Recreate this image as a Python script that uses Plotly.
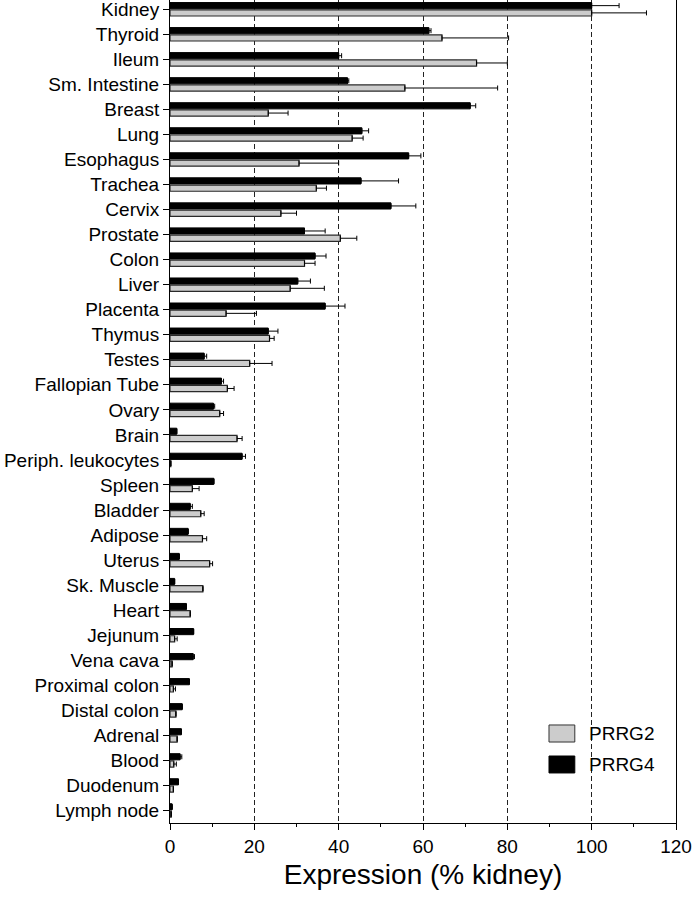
import plotly.graph_objects as go

categories = ["Kidney", "Thyroid", "Ileum", "Sm. Intestine", "Breast", "Lung", "Esophagus",
              "Trachea", "Cervix", "Prostate", "Colon", "Liver", "Placenta", "Thymus", "Testes",
              "Fallopian Tube", "Ovary", "Brain", "Periph. leukocytes", "Spleen", "Bladder",
              "Adipose", "Uterus", "Sk. Muscle", "Heart", "Jejunum", "Vena cava", "Proximal colon",
              "Distal colon", "Adrenal", "Blood", "Duodenum", "Lymph node"]

prrg2 = [100, 64.5, 72.7, 55.7, 23.3, 43.2, 30.6, 34.7, 26.3, 40.4, 31.9, 28.5, 13.3, 23.6, 18.9,
         13.6, 11.8, 15.9, 0.2, 5.3, 7.3, 7.7, 9.4, 7.8, 4.8, 1.1, 0.5, 0.8, 1.4, 1.7, 0.9, 0.8, 0.3]
prrg2_err = [13, 15.8, 7.3, 22, 4.7, 2.6, 9.4, 2.4, 3.7, 3.9, 2.5, 8.1, 7.2, 1.1, 5.3,
             1.6, 0.9, 1.2, None, 1.6, 0.8, 1.0, 0.7, None, None, 0.6, None, 0.5, None, None, 0.6, None, None]

prrg4 = [100, 61.4, 40.0, 42.1, 71.2, 45.5, 56.6, 45.3, 52.4, 31.9, 34.4, 30.3, 36.8, 23.3, 8.1,
         12.2, 10.3, 1.6, 17.1, 10.4, 4.8, 4.3, 2.2, 1.1, 3.9, 5.6, 5.5, 4.6, 2.9, 2.7, 2.4, 2.0, 0.5]
prrg4_err = [6.5, 0.5, 0.7, 0.3, 1.3, 1.6, 2.9, 8.9, 5.9, 4.9, 2.6, 3.0, 4.7, 2.3, 0.6,
             0.5, 0.3, None, 0.8, None, 0.5, None, None, None, None, None, 0.3, None, None, None, 0.4, None, None]

x_ticks = [0, 20, 40, 60, 80, 100, 120]

ypos = list(range(len(categories)))

def zeros_like(errs):
    return [0 if e is not None else None for e in errs]

fig = go.Figure()
fig.add_trace(go.Bar(
    name="PRRG4", y=ypos, x=prrg4, orientation="h",
    marker=dict(color="#000000", line=dict(color="#000000", width=1)),
    error_x=dict(type="data", array=prrg4_err, arrayminus=zeros_like(prrg4_err), symmetric=False,
                 color="#000000", thickness=1, width=2.5),
))
fig.add_trace(go.Bar(
    name="PRRG2", y=ypos, x=prrg2, orientation="h",
    marker=dict(color="#cccccc", line=dict(color="#2a2a2a", width=1.2)),
    error_x=dict(type="data", array=prrg2_err, arrayminus=zeros_like(prrg2_err), symmetric=False,
                 color="#000000", thickness=1, width=2.5),
))

font_family = "Liberation Sans, Arial, sans-serif"

fig.update_layout(
    width=693, height=902,
    margin=dict(l=170, r=17, t=0, b=79, autoexpand=False),
    paper_bgcolor="white", plot_bgcolor="white",
    barmode="group", bargap=0.42, bargroupgap=0.15,
    showlegend=False,
    font=dict(family=font_family, size=19, color="#000000"),
    xaxis=dict(
        range=[0, 120], tickvals=x_ticks, ticks="outside", ticklen=6, tickwidth=1,
        tickcolor="#000000", showline=True, linecolor="#000000", linewidth=1, mirror=True,
        showgrid=True, gridcolor="#222222", gridwidth=1, griddash="5px,3px", zeroline=False,
        tickfont=dict(size=19), automargin=False, ticklabeloverflow="allow",
        minor=dict(dtick=10, ticks="outside", ticklen=3, tickcolor="#000000", showgrid=False),
        title=dict(text="Expression (% kidney)", font=dict(size=28), standoff=8),
    ),
    yaxis=dict(
        range=[32.5, -0.37], tickvals=ypos, ticktext=categories, ticks="outside", ticklen=6,
        tickwidth=1, tickcolor="#000000", showline=True, linecolor="#000000", linewidth=1,
        mirror=True, showgrid=False, zeroline=False, tickfont=dict(size=19),
        automargin=False, ticklabeloverflow="allow",
    ),
)

# legend drawn as boxes and labels
legend_items = [("PRRG2", "#cccccc", "#333333", 0.1191, 0.0984, 0.1087),
                ("PRRG4", "#000000", "#000000", 0.0814, 0.0608, 0.0711)]
for label, fill, edge, y1, y0, yc in legend_items:
    fig.add_shape(type="rect", xref="paper", yref="paper", x0=0.749, x1=0.800, y0=y0, y1=y1,
                  fillcolor=fill, line=dict(color=edge, width=1))
    fig.add_annotation(xref="paper", yref="paper", x=0.824, y=yc, text=label, showarrow=False,
                       xanchor="left", yanchor="middle", font=dict(size=19, family=font_family))

fig.write_html("out.html", config={"displayModeBar": False},
               post_script="document.body.style.margin='0';")
